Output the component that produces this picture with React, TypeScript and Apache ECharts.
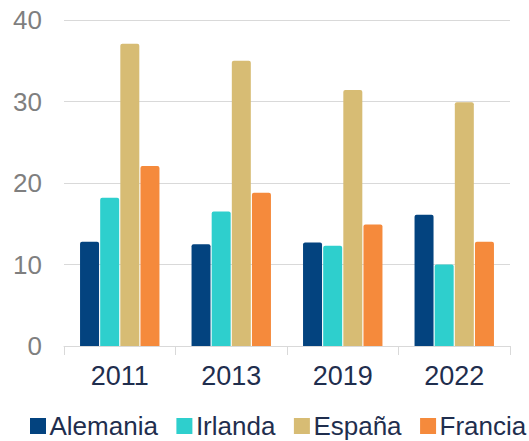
import React, { useEffect, useRef } from "react";
import * as echarts from "echarts";

const categories = ["2011", "2013", "2019", "2022"];
const seriesNames = ["Alemania", "Irlanda", "España", "Francia"];
const alemania = [12.8, 12.5, 12.7, 16.1];
const irlanda = [18.2, 16.5, 12.3, 10.0];
const espana = [37.1, 35.0, 31.4, 29.9];
const francia = [22.1, 18.8, 14.9, 12.8];
const colors = ["#03437f", "#2ecfcd", "#d7bc74", "#f58a3c"];

const FONT = "'Liberation Sans', Arial, sans-serif";

export default function App() {
  const ref = useRef<HTMLDivElement>(null);
  useEffect(() => {
    if (!ref.current) return;
    const chart = echarts.init(ref.current, undefined, { renderer: "svg" });
    const values = [alemania, irlanda, espana, francia];
    chart.setOption({
      animation: false,
      color: colors,
      grid: { left: 64, right: 19, top: 20, bottom: 95, containLabel: false },
      legend: {
        data: seriesNames,
        left: 30,
        top: 413,
        padding: 0,
        itemWidth: 16,
        itemHeight: 16,
        itemGap: 18.5,
        icon: "rect",
        textStyle: { fontFamily: FONT, fontSize: 26, lineHeight: 26, color: "#1f2e4e", padding: [0, 0, 0, -1.5] },
      },
      xAxis: {
        type: "category",
        data: categories,
        axisLine: { show: true, lineStyle: { color: "#d9d9d9", width: 1 } },
        axisTick: { show: true, length: 9, lineStyle: { color: "#d9d9d9" } },
        axisLabel: { fontFamily: FONT, fontSize: 27, color: "#1f2e4e", margin: 16 },
      },
      yAxis: {
        type: "value",
        min: 0,
        max: 40,
        interval: 10,
        axisLine: { show: false },
        axisTick: { show: false },
        splitLine: { lineStyle: { color: "#d9d9d9", width: 1 } },
        axisLabel: { fontFamily: FONT, fontSize: 26, color: "#7f7f7f", margin: 22 },
      },
      series: seriesNames.map((name, i) => ({
        name,
        type: "bar",
        data: values[i],
        barWidth: 19,
        barGap: "6%",
        itemStyle: { color: colors[i], borderRadius: [2, 2, 0, 0] },
      })),
    });
    return () => chart.dispose();
  }, []);
  return <div ref={ref} style={{ width: 529, height: 441, position: "absolute", left: 0, top: 0 }} />;
}
